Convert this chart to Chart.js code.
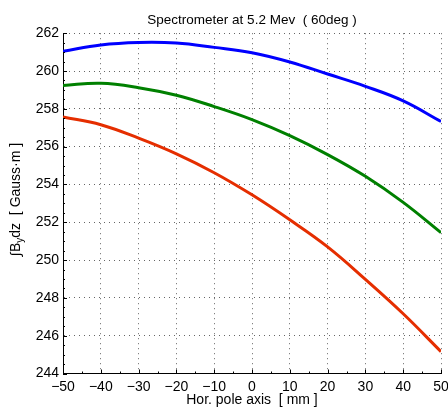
<!DOCTYPE html>
<html>
<head>
<meta charset="utf-8">
<script src="https://cdn.jsdelivr.net/npm/chart.js@4.4.1/dist/chart.umd.min.js"></script>
<style>
  html, body { margin: 0; padding: 0; background: #fff; }
  #wrap { width: 448px; height: 409px; }
</style>
</head>
<body>
<div id="wrap"><canvas id="chart" width="448" height="409"></canvas></div>
<script>
// Hor. pole axis positions [mm]
const poleX = [-50, -40, -30, -20, -10, 0, 10, 20, 30, 40, 50];

// Integrated field per curve [Gauss·m]
const blueField  = [261.04, 261.38, 261.51, 261.48, 261.25, 260.97, 260.48, 259.84, 259.19, 258.42, 257.33];
const greenField = [259.24, 259.35, 259.12, 258.72, 258.12, 257.43, 256.58, 255.58, 254.43, 253.05, 251.45];
const redField   = [257.57, 257.16, 256.45, 255.62, 254.62, 253.45, 252.13, 250.70, 248.98, 247.16, 245.16];

const seriesColors = ['#0000ff', '#008000', '#e52e00'];

const yMin = 244, yMax = 262, yStep = 2;
const xMin = -50, xMax = 50, xStep = 10;

const FONT = '"Liberation Sans", Arial, sans-serif';

function toPoints(values) {
    return poleX.map((x, i) => ({ x: x, y: values[i] }));
}

// inward major/minor tick marks on left and bottom axes, plus y title with subscript
const axisDecor = {
    id: 'axisDecor',
    afterDraw(chart) {
        const ctx = chart.ctx;
        const xs = chart.scales.x;
        const ys = chart.scales.y;
        const area = chart.chartArea;
        ctx.save();
        ctx.strokeStyle = '#000';
        ctx.lineWidth = 1;
        ctx.beginPath();
        for (let v = yMin; v <= yMax + 1e-9; v += 0.5) {
            const py = Math.round(ys.getPixelForValue(v)) + 0.5;
            const len = (Math.abs(v % yStep) < 1e-9) ? 4 : 2;
            ctx.moveTo(area.left, py);
            ctx.lineTo(area.left + len, py);
        }
        for (let v = xMin; v <= xMax + 1e-9; v += 5) {
            const px = Math.round(xs.getPixelForValue(v)) + 0.5;
            const len = (Math.abs(v % xStep) < 1e-9) ? 4 : 2;
            ctx.moveTo(px, area.bottom);
            ctx.lineTo(px, area.bottom - len);
        }
        ctx.stroke();

        // y axis title: ∫B_y dz  [ Gauss·m ]
        ctx.translate(16, (area.top + area.bottom) / 2 - 4);
        ctx.rotate(-Math.PI / 2);
        ctx.fillStyle = '#000';
        ctx.textBaseline = 'middle';
        const big = '14px ' + FONT;
        const small = '10px ' + FONT;
        const parts = [
            { t: '\u222BB', f: big, dy: 0 },
            { t: 'y', f: small, dy: 4 },
            { t: 'dz  [ Gauss\u00B7m ]', f: big, dy: 0 }
        ];
        let total = 0;
        parts.forEach(p => { ctx.font = p.f; total += ctx.measureText(p.t).width; });
        let cx = -total / 2;
        parts.forEach(p => {
            ctx.font = p.f;
            ctx.textAlign = 'left';
            ctx.fillText(p.t, cx, p.dy);
            cx += ctx.measureText(p.t).width;
        });
        ctx.restore();
    }
};

const makeSet = (label, values, color) => ({
    label: label,
    data: toPoints(values),
    borderColor: color,
    backgroundColor: color,
    borderWidth: 3,
    pointRadius: 0,
    fill: false,
    tension: 0.4
});

new Chart(document.getElementById('chart'), {
    type: 'line',
    data: {
        datasets: [
            makeSet('blue', blueField, seriesColors[0]),
            makeSet('green', greenField, seriesColors[1]),
            makeSet('red', redField, seriesColors[2])
        ]
    },
    options: {
        responsive: false,
        animation: false,
        layout: { padding: { left: 0, right: 0, top: 0, bottom: 0 } },
        plugins: {
            legend: { display: false },
            tooltip: { enabled: false },
            title: {
                display: true,
                fullSize: false,
                text: 'Spectrometer at 5.2 Mev  ( 60deg )',
                color: '#000',
                font: { family: FONT, size: 13.5, weight: 'normal' },
                padding: { top: 12, bottom: 5 }
            }
        },
        scales: {
            x: {
                type: 'linear',
                min: xMin,
                max: xMax,
                afterFit(scale) {
                    scale.height = 35.5;
                    scale.paddingLeft = 0;
                    scale.paddingRight = 7;
                },
                ticks: {
                    stepSize: xStep,
                    color: '#000',
                    padding: 5,
                    maxRotation: 0,
                    font: { family: FONT, size: 14 },
                    callback: v => String(v).replace('-', '\u2212')
                },
                grid: { color: '#666', lineWidth: 1, drawTicks: false },
                border: { display: true, color: '#000', width: 1, dash: [1, 4] },
                title: {
                    display: true,
                    text: 'Hor. pole axis  [ mm ]',
                    color: '#000',
                    font: { family: FONT, size: 14 },
                    padding: { top: 0, bottom: 0 }
                }
            },
            y: {
                type: 'linear',
                min: yMin,
                max: yMax,
                afterFit(scale) { scale.width = 63; },
                ticks: {
                    stepSize: yStep,
                    color: '#000',
                    padding: 4,
                    font: { family: FONT, size: 14 }
                },
                grid: { color: '#666', lineWidth: 1, drawTicks: false },
                border: { display: true, color: '#000', width: 1, dash: [1, 4] }
            }
        }
    },
    plugins: [axisDecor]
});
</script>
</body>
</html>
